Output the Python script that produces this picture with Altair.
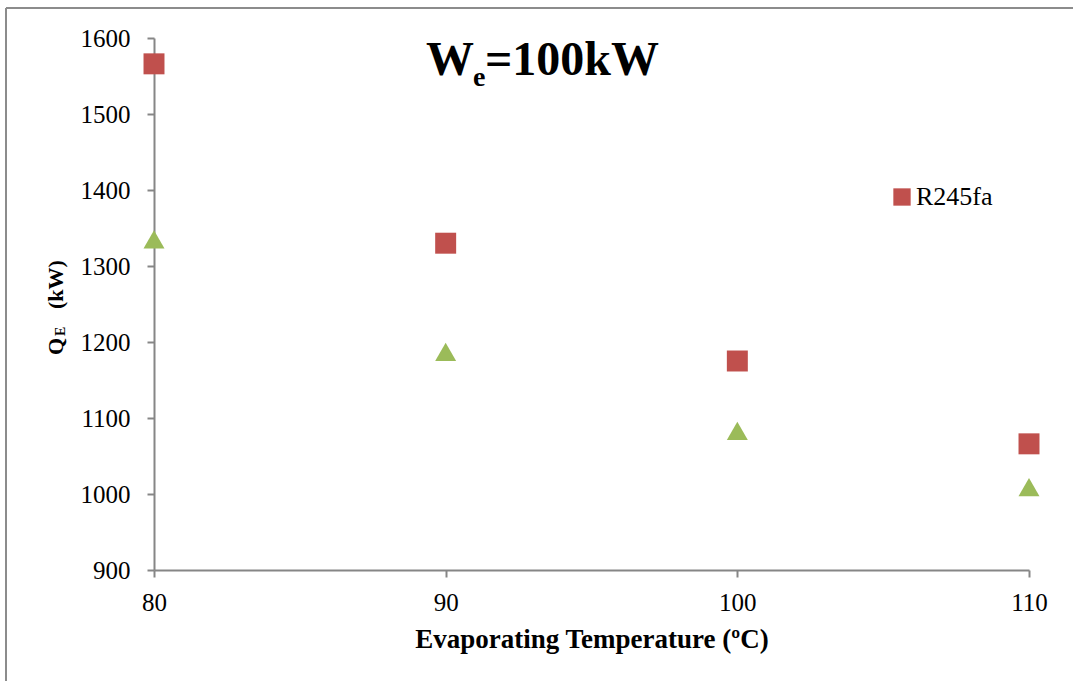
import altair as alt
import pandas as pd

# ---- data ----
temps = [80, 90, 100, 110]
r245fa = [1566, 1330, 1175, 1066]
second_series = [1335, 1187, 1083, 1009]
x_ticks = [80, 90, 100, 110]
y_ticks = [900, 1000, 1100, 1200, 1300, 1400, 1500, 1600]
legend_names = ["R245fa"]

RED = "#C0504D"
GREEN = "#9BBB59"
AXIS = "#868686"
FONT = "Liberation Serif"

df_sq = pd.DataFrame({"T": temps, "Q": r245fa, "series": legend_names * len(temps)})
df_tr = pd.DataFrame({"T": temps, "Q": second_series})

W, H = 875, 532
x_scale = alt.Scale(domain=[80, 110], nice=False, zero=False)
y_scale = alt.Scale(domain=[900, 1600], nice=False, zero=False)

x_axis = alt.Axis(
    values=x_ticks, title="Evaporating Temperature (ºC)", grid=False, format="d",
    domainColor=AXIS, domainWidth=2, tickColor=AXIS, tickWidth=2, tickSize=7,
    labelFont=FONT, labelFontSize=25, labelColor="black", labelPadding=13,
    labelFlush=False,
    titleFont=FONT, titleFontSize=27, titleFontWeight="bold", titleColor="black",
    titleY=77, titleBaseline="alphabetic",
)
y_axis = alt.Axis(
    values=y_ticks, title=None, grid=False, format="d",
    domainColor=AXIS, domainWidth=2, tickColor=AXIS, tickWidth=2, tickSize=7,
    labelFont=FONT, labelFontSize=25, labelColor="black", labelPadding=17,
    labelFlush=False,
)

sq = alt.Chart(df_sq).mark_point(shape="square", filled=True, size=440, opacity=1).encode(
    x=alt.X("T:Q", scale=x_scale, axis=x_axis),
    y=alt.Y("Q:Q", scale=y_scale, axis=y_axis),
    color=alt.Color(
        "series:N",
        scale=alt.Scale(domain=legend_names, range=[RED]),
        legend=alt.Legend(
            orient="none", legendX=735, legendY=146, title=None,
            symbolType="square", symbolSize=300, symbolOpacity=1, symbolStrokeWidth=0,
            labelFont=FONT, labelFontSize=26, labelColor="black", labelOffset=1,
            padding=0,
        ),
    ),
)

tr = alt.Chart(df_tr).mark_point(shape="triangle-up", filled=True, size=440, opacity=1, color=GREEN).encode(
    x=alt.X("T:Q", scale=x_scale),
    y=alt.Y("Q:Q", scale=y_scale),
)


def txt(s, x, y, size, weight="normal", angle=0, font=FONT):
    return alt.Chart(alt.Data(values=[{}])).mark_text(
        text=s, font=font, fontSize=size, fontWeight=weight, align="left",
        baseline="alphabetic", angle=angle, color="black",
    ).encode(x=alt.value(x), y=alt.value(y))


# chart title W_e=100kW (positions relative to plot area origin at 154,38)
t1 = txt("W", 426 - 154, 75 - 38, 48, "bold")
t2 = txt("e", 473 - 154, 86 - 38, 28, "bold")
t3 = txt("=100kW", 485 - 154, 75 - 38, 48, "bold")

# y axis title Q_E (kW), rotated
y1 = txt("Q", 63 - 154, 355 - 38, 22, "bold", 270)
y2 = txt("E", 65 - 154, 336 - 38, 14, "bold", 270)
y3 = txt("(kW)", 63 - 154, 309 - 38, 22, "bold", 270)

# outer frame lines (top and left)
frame_top = alt.Chart(alt.Data(values=[{}])).mark_rule(color="#8c8c8c", strokeWidth=2).encode(
    x=alt.value(6 - 154), x2=alt.value(1073 - 154), y=alt.value(8 - 38)
)
frame_left = alt.Chart(alt.Data(values=[{}])).mark_rule(color="#8c8c8c", strokeWidth=2).encode(
    x=alt.value(6 - 154), y=alt.value(8 - 38), y2=alt.value(681 - 38)
)

chart = alt.layer(frame_top, frame_left, tr, sq, t1, t2, t3, y1, y2, y3).properties(
    width=W, height=H,
    padding={"left": 154, "top": 38, "right": 44, "bottom": 111},
    autosize=alt.AutoSizeParams(type="none"),
    background="white",
).configure(font=FONT).configure_axis(labelFont=FONT, titleFont=FONT).configure_legend(
    labelFont=FONT
).configure_view(stroke=None)

chart.save("out.html", embed_options={"renderer": "svg", "actions": False})
